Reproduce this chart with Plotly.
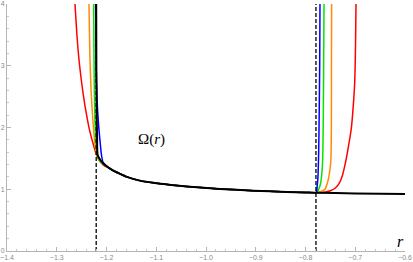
import plotly.graph_objects as go

# ---- data ----
ASYMPTOTES_R = [-1.2207, -0.779]

MID_R = [-1.196, -1.186, -1.173, -1.159, -1.133, -1.106, -1.07, -1.039, -0.972, -0.905, -0.838, -0.800]
MID_Y = [1.35, 1.30, 1.25, 1.20, 1.14, 1.105, 1.07, 1.045, 1.005, 0.977, 0.957, 0.948]

BLACK_LEFT_R = [-1.2207, -1.2204, -1.2198, -1.2190, -1.2177, -1.2120, -1.2066]
BLACK_LEFT_Y = [4.0, 3.0, 2.3, 1.85, 1.55, 1.47, 1.42]
BLACK_RIGHT_R = [-0.781, -0.70, -0.60]
BLACK_RIGHT_Y = [0.944, 0.932, 0.922]

RED_LEFT_R = [-1.2633, -1.2590, -1.2540, -1.2470, -1.2400, -1.2330, -1.2264, -1.2198, -1.2130, -1.2030]
RED_LEFT_Y = [4.0, 3.45, 3.0, 2.55, 2.2, 1.92, 1.72, 1.55, 1.45, 1.37]
RED_RIGHT_R = [-0.781, -0.770, -0.760, -0.750, -0.740, -0.732, -0.726, -0.720, -0.714, -0.708, -0.704, -0.701, -0.6995, -0.6985]
RED_RIGHT_Y = [0.944, 0.946, 0.955, 0.975, 1.02, 1.10, 1.22, 1.42, 1.68, 1.98, 2.35, 2.75, 3.3, 4.0]

ORANGE_LEFT_R = [-1.2352, -1.2335, -1.2310, -1.2278, -1.2231, -1.2184, -1.2130, -1.2066]
ORANGE_LEFT_Y = [4.0, 3.2, 2.6, 2.17, 1.72, 1.52, 1.45, 1.41]
ORANGE_RIGHT_R = [-0.781, -0.772, -0.766, -0.761, -0.7544, -0.751, -0.749, -0.748, -0.7478, -0.7475]
ORANGE_RIGHT_Y = [0.944, 0.955, 0.975, 1.0, 1.15, 1.31, 1.47, 2.0, 3.0, 4.0]

GREEN_LEFT_R = [-1.2258, -1.2250, -1.2238, -1.2215, -1.2190, -1.2150, -1.2100]
GREEN_LEFT_Y = [4.0, 3.0, 2.3, 1.80, 1.58, 1.48, 1.43]
GREEN_RIGHT_R = [-0.781, -0.776, -0.7725, -0.7695, -0.7675, -0.7655, -0.7642, -0.7635, -0.7628]
GREEN_RIGHT_Y = [0.944, 0.96, 1.02, 1.10, 1.23, 1.47, 2.2, 3.0, 4.0]

BLUE_LEFT_R = [-1.2218, -1.2208, -1.2190, -1.2160, -1.2130, -1.2100, -1.2066]
BLUE_LEFT_Y = [4.0, 3.0, 2.45, 2.05, 1.78, 1.55, 1.43]
BLUE_RIGHT_R = [-0.781, -0.778, -0.7765, -0.775, -0.7735, -0.7725, -0.7715, -0.7709]
BLUE_RIGHT_Y = [0.944, 0.95, 1.05, 1.2, 1.6, 2.2, 3.0, 4.0]

X_TICKS = [-1.4, -1.3, -1.2, -1.1, -1.0, -0.9, -0.8, -0.7, -0.6]
Y_TICKS = [0, 1, 2, 3, 4]

fig = go.Figure()

colored = [
    ("red", RED_LEFT_R, RED_LEFT_Y, RED_RIGHT_R, RED_RIGHT_Y, "rgb(255,0,0)"),
    ("orange", ORANGE_LEFT_R, ORANGE_LEFT_Y, ORANGE_RIGHT_R, ORANGE_RIGHT_Y, "rgb(255,140,0)"),
    ("green", GREEN_LEFT_R, GREEN_LEFT_Y, GREEN_RIGHT_R, GREEN_RIGHT_Y, "rgb(0,230,0)"),
    ("blue", BLUE_LEFT_R, BLUE_LEFT_Y, BLUE_RIGHT_R, BLUE_RIGHT_Y, "rgb(0,0,255)"),
]
for name, lr, ly, rr, ry, col in colored:
    xs = lr + [m for m in MID_R if m > lr[-1]] + rr
    ys = ly + [MID_Y[i] for i, m in enumerate(MID_R) if m > lr[-1]] + ry
    fig.add_trace(go.Scatter(x=xs, y=ys, mode="lines", name=name,
                             line=dict(color=col, width=1.5, shape="spline", smoothing=0.6),
                             hoverinfo="skip"))

fig.add_trace(go.Scatter(x=BLACK_LEFT_R + MID_R + BLACK_RIGHT_R,
                         y=BLACK_LEFT_Y + MID_Y + BLACK_RIGHT_Y,
                         mode="lines", name="black",
                         line=dict(color="black", width=2, shape="spline", smoothing=0.6),
                         hoverinfo="skip"))

for a in ASYMPTOTES_R:
    fig.add_trace(go.Scatter(x=[a, a], y=[Y_TICKS[0], Y_TICKS[-1]], mode="lines",
                             line=dict(color="black", width=1.3, dash="4px,2px"),
                             hoverinfo="skip"))

axis_common = dict(showgrid=False, zeroline=False, showline=True, linecolor="#b5b5b5",
                   linewidth=1, ticks="inside", ticklen=4, tickcolor="#b5b5b5",
                   tickfont=dict(family="Liberation Sans", size=7, color="#8a8a8a"),
                   automargin=False)

fig.update_layout(
    width=413, height=262,
    margin=dict(l=7, r=8, t=4, b=11),
    plot_bgcolor="white", paper_bgcolor="white",
    showlegend=False,
    xaxis=dict(range=[-1.4, -0.6], tickvals=X_TICKS, tickformat=".1f",
               minor=dict(dtick=0.02, ticks="inside", ticklen=2, tickcolor="#c8c8c8"),
               **axis_common),
    yaxis=dict(range=[0, 4], tickvals=Y_TICKS, tickformat="d",
               minor=dict(dtick=0.2, ticks="inside", ticklen=2, tickcolor="#c8c8c8"),
               **axis_common),
    annotations=[
        dict(x=-1.1090, y=1.80, xref="x", yref="y", text="Ω(<i>r</i>)", showarrow=False,
             font=dict(family="Liberation Serif", size=15, color="black")),
        dict(x=-0.610, y=0.15, xref="x", yref="y", text="<i>r</i>", showarrow=False,
             font=dict(family="Liberation Serif", size=16, color="black")),
    ],
)

fig.write_html("out.html", config={"displayModeBar": False},
               post_script="document.body.style.margin='0';document.body.style.overflow='hidden';")
